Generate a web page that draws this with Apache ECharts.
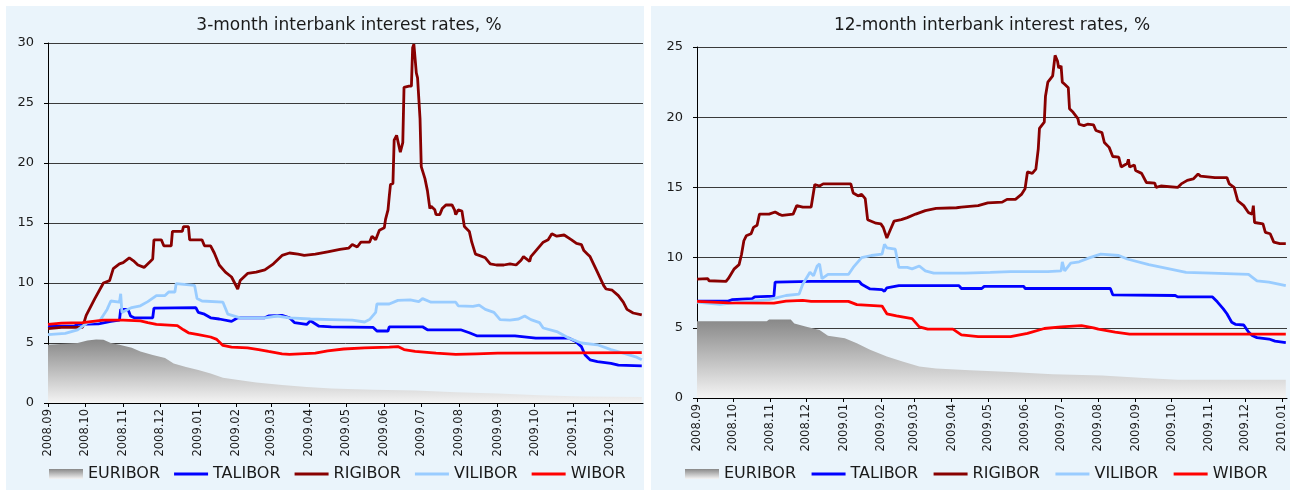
<!DOCTYPE html>
<html>
<head>
<meta charset="utf-8">
<script src="https://cdn.jsdelivr.net/npm/echarts@6.0.0/dist/echarts.min.js"></script>
<style>
  html, body { margin: 0; padding: 0; background: #fff; }
  #chart { width: 1293px; height: 493px; }
</style>
</head>
<body>
<div id="chart"></div>
<script>
// 系列名称与刻度标签
const seriesNames = ['EURIBOR', 'TALIBOR', 'RIGIBOR', 'VILIBOR', 'WIBOR'];
const titles = ['3-month interbank interest rates, %', '12-month interbank interest rates, %'];
const ticks3m = ['2008.09', '2008.10', '2008.11', '2008.12', '2009.01', '2009.02', '2009.03', '2009.04',
  '2009.05', '2009.06', '2009.07', '2009.08', '2009.09', '2009.10', '2009.11', '2009.12'];
const ticks12m = ticks3m.concat(['2010.01']);

// 3个月利率
const euribor3m = [['2008-09-01', 4.86], ['2008-09-25', 5.0], ['2008-10-03', 5.2], ['2008-10-10', 5.3], ['2008-10-16', 5.28],
  ['2008-10-22', 5.0], ['2008-10-29', 4.86], ['2008-11-08', 4.6], ['2008-11-15', 4.3], ['2008-11-25', 4.0], ['2008-12-05', 3.75],
  ['2008-12-12', 3.3], ['2008-12-22', 3.0], ['2009-01-01', 2.75], ['2009-01-11', 2.45], ['2009-01-21', 2.1], ['2009-02-04', 1.9],
  ['2009-02-17', 1.7], ['2009-03-10', 1.5], ['2009-03-30', 1.33], ['2009-04-19', 1.2], ['2009-05-23', 1.1], ['2009-06-26', 1.05],
  ['2009-07-29', 0.9], ['2009-09-01', 0.8], ['2009-10-05', 0.65], ['2009-11-08', 0.55], ['2009-12-27', 0.5]];
const talibor3m = [['2008-09-01', 6.4], ['2008-09-22', 6.4], ['2008-09-25', 6.55], ['2008-10-12', 6.6], ['2008-10-22', 6.8],
  ['2008-10-29', 6.9], ['2008-10-30', 7.8], ['2008-11-05', 7.8], ['2008-11-07', 7.25], ['2008-11-10', 7.1], ['2008-11-25', 7.1],
  ['2008-11-26', 7.9], ['2008-12-30', 7.95], ['2009-01-01', 7.55], ['2009-01-06', 7.4], ['2009-01-11', 7.1], ['2009-01-18', 7.0],
  ['2009-01-28', 6.8], ['2009-02-02', 7.1], ['2009-02-24', 7.1], ['2009-02-27', 7.25], ['2009-03-10', 7.3], ['2009-03-16', 7.1],
  ['2009-03-20', 6.7], ['2009-03-30', 6.55], ['2009-04-02', 6.85], ['2009-04-09', 6.4], ['2009-04-19', 6.35], ['2009-05-23', 6.3],
  ['2009-05-26', 6.0], ['2009-06-04', 6.0], ['2009-06-05', 6.35], ['2009-07-02', 6.35], ['2009-07-06', 6.1], ['2009-08-02', 6.1],
  ['2009-08-09', 5.85], ['2009-08-15', 5.6], ['2009-09-15', 5.6], ['2009-10-02', 5.4], ['2009-10-29', 5.4], ['2009-11-03', 5.15],
  ['2009-11-08', 4.7], ['2009-11-11', 4.0], ['2009-11-15', 3.6], ['2009-11-21', 3.45], ['2009-12-02', 3.3], ['2009-12-08', 3.15],
  ['2009-12-27', 3.1]];
const rigibor3m = [['2008-09-01', 6.2], ['2008-09-12', 6.3], ['2008-09-29', 6.3], ['2008-10-02', 7.3], ['2008-10-09', 8.7],
  ['2008-10-16', 10.0], ['2008-10-21', 10.2], ['2008-10-24', 11.2], ['2008-10-29', 11.6], ['2008-11-01', 11.7], ['2008-11-06', 12.1],
  ['2008-11-10', 11.8], ['2008-11-13', 11.5], ['2008-11-18', 11.3], ['2008-11-23', 11.8], ['2008-11-25', 12.0], ['2008-11-26', 13.6],
  ['2008-12-02', 13.6], ['2008-12-04', 13.1], ['2008-12-10', 13.1], ['2008-12-11', 14.3], ['2008-12-19', 14.3], ['2008-12-20', 14.7],
  ['2008-12-24', 14.7], ['2008-12-25', 13.6], ['2009-01-04', 13.6], ['2009-01-06', 13.1], ['2009-01-11', 13.1], ['2009-01-14', 12.5],
  ['2009-01-18', 11.5], ['2009-01-23', 10.9], ['2009-01-28', 10.5], ['2009-02-02', 9.5], ['2009-02-04', 10.2], ['2009-02-10', 10.8],
  ['2009-02-17', 10.9], ['2009-02-24', 11.1], ['2009-03-03', 11.6], ['2009-03-10', 12.3], ['2009-03-16', 12.5], ['2009-03-23', 12.4],
  ['2009-03-28', 12.3], ['2009-04-06', 12.4], ['2009-04-16', 12.6], ['2009-04-26', 12.8], ['2009-05-03', 12.9], ['2009-05-06', 13.2],
  ['2009-05-10', 13.0], ['2009-05-13', 13.4], ['2009-05-20', 13.4], ['2009-05-22', 13.9], ['2009-05-25', 13.6], ['2009-05-28', 14.4],
  ['2009-06-01', 14.6], ['2009-06-02', 15.3], ['2009-06-04', 16.1], ['2009-06-05', 17.2], ['2009-06-06', 18.2], ['2009-06-08', 18.3],
  ['2009-06-09', 21.9], ['2009-06-11', 22.3], ['2009-06-14', 20.9], ['2009-06-16', 21.7], ['2009-06-17', 26.3], ['2009-06-21', 26.4],
  ['2009-06-23', 26.4], ['2009-06-24', 29.6], ['2009-06-25', 29.9], ['2009-06-27', 27.5], ['2009-06-28', 27.1], ['2009-06-30', 23.7],
  ['2009-07-01', 19.7], ['2009-07-04', 18.7], ['2009-07-06', 17.7], ['2009-07-08', 16.2], ['2009-07-09', 16.4], ['2009-07-12', 16.1],
  ['2009-07-13', 15.7], ['2009-07-16', 15.7], ['2009-07-18', 16.2], ['2009-07-21', 16.5], ['2009-07-26', 16.5], ['2009-07-28', 16.1],
  ['2009-07-29', 15.7], ['2009-07-31', 16.1], ['2009-08-03', 16.0], ['2009-08-05', 14.7], ['2009-08-09', 14.3], ['2009-08-11', 13.4],
  ['2009-08-14', 12.4], ['2009-08-17', 12.3], ['2009-08-22', 12.1], ['2009-08-26', 11.6], ['2009-08-31', 11.5], ['2009-09-06', 11.5],
  ['2009-09-11', 11.6], ['2009-09-16', 11.5], ['2009-09-20', 11.9], ['2009-09-22', 12.2], ['2009-09-27', 11.8], ['2009-09-28', 12.2],
  ['2009-10-03', 12.8], ['2009-10-08', 13.4], ['2009-10-12', 13.6], ['2009-10-15', 14.1], ['2009-10-19', 13.9], ['2009-10-25', 14.0],
  ['2009-10-31', 13.6], ['2009-11-04', 13.3], ['2009-11-08', 13.2], ['2009-11-10', 12.7], ['2009-11-13', 12.4], ['2009-11-15', 12.2],
  ['2009-11-21', 10.9], ['2009-11-26', 9.8], ['2009-11-28', 9.5], ['2009-12-03', 9.4], ['2009-12-08', 8.95], ['2009-12-12', 8.4],
  ['2009-12-15', 7.8], ['2009-12-20', 7.5], ['2009-12-27', 7.35]];
const vilibor3m = [['2008-09-01', 5.7], ['2008-09-15', 5.8], ['2008-09-25', 6.1], ['2008-10-03', 6.7], ['2008-10-13', 6.85],
  ['2008-10-19', 7.8], ['2008-10-22', 8.5], ['2008-10-29', 8.4], ['2008-10-30', 9.1], ['2008-10-31', 7.55], ['2008-11-03', 7.7],
  ['2008-11-08', 7.95], ['2008-11-15', 8.1], ['2008-11-21', 8.45], ['2008-11-28', 8.95], ['2008-12-05', 8.95], ['2008-12-08', 9.25],
  ['2008-12-13', 9.25], ['2008-12-14', 9.95], ['2008-12-29', 9.8], ['2008-12-31', 8.7], ['2009-01-04', 8.5], ['2009-01-21', 8.4],
  ['2009-01-25', 7.4], ['2009-02-04', 7.1], ['2009-02-24', 7.1], ['2009-03-06', 7.25], ['2009-03-16', 7.1], ['2009-04-02', 7.0],
  ['2009-04-19', 6.95], ['2009-05-06', 6.9], ['2009-05-16', 6.75], ['2009-05-20', 6.95], ['2009-05-25', 7.55], ['2009-05-26', 8.25],
  ['2009-06-05', 8.25], ['2009-06-12', 8.55], ['2009-06-22', 8.6], ['2009-06-29', 8.45], ['2009-07-02', 8.7], ['2009-07-09', 8.4],
  ['2009-07-29', 8.4], ['2009-07-31', 8.1], ['2009-08-12', 8.05], ['2009-08-17', 8.15], ['2009-08-22', 7.8], ['2009-08-29', 7.55],
  ['2009-09-03', 6.95], ['2009-09-11', 6.9], ['2009-09-18', 7.0], ['2009-09-23', 7.25], ['2009-09-28', 6.95], ['2009-10-05', 6.7],
  ['2009-10-08', 6.25], ['2009-10-19', 5.95], ['2009-10-29', 5.4], ['2009-11-08', 5.0], ['2009-11-21', 4.85], ['2009-12-02', 4.45],
  ['2009-12-12', 4.15], ['2009-12-22', 3.85], ['2009-12-27', 3.6]];
const wibor3m = [['2008-09-01', 6.55], ['2008-09-12', 6.65], ['2008-09-29', 6.7], ['2008-10-16', 6.9], ['2008-11-01', 6.9],
  ['2008-11-15', 6.85], ['2008-11-21', 6.7], ['2008-11-28', 6.55], ['2008-12-15', 6.45], ['2008-12-20', 6.1], ['2008-12-24', 5.85],
  ['2009-01-01', 5.7], ['2009-01-11', 5.5], ['2009-01-16', 5.3], ['2009-01-21', 4.8], ['2009-01-28', 4.65], ['2009-02-10', 4.6],
  ['2009-02-19', 4.45], ['2009-02-27', 4.3], ['2009-03-10', 4.1], ['2009-03-16', 4.05], ['2009-04-06', 4.15], ['2009-04-16', 4.35],
  ['2009-04-29', 4.5], ['2009-05-16', 4.6], ['2009-06-05', 4.65], ['2009-06-12', 4.7], ['2009-06-17', 4.45], ['2009-06-26', 4.3],
  ['2009-07-13', 4.15], ['2009-07-29', 4.05], ['2009-08-15', 4.1], ['2009-09-01', 4.15], ['2009-12-27', 4.2]];

// 12个月利率
const euribor12m = [['2008-09-01', 5.47], ['2008-10-29', 5.47], ['2008-10-31', 5.6], ['2008-11-18', 5.6], ['2008-11-21', 5.3],
  ['2008-12-01', 5.07], ['2008-12-12', 4.84], ['2008-12-19', 4.44], ['2009-01-02', 4.25], ['2009-01-12', 3.9], ['2009-01-23', 3.43],
  ['2009-02-06', 2.96], ['2009-02-19', 2.6], ['2009-03-05', 2.25], ['2009-03-19', 2.1], ['2009-04-16', 1.97], ['2009-05-20', 1.85],
  ['2009-06-24', 1.7], ['2009-08-04', 1.6], ['2009-09-08', 1.43], ['2009-10-06', 1.3], ['2010-01-04', 1.3]];
const talibor12m = [['2008-09-01', 6.9], ['2008-09-27', 6.9], ['2008-09-30', 7.0], ['2008-10-17', 7.07], ['2008-10-19', 7.2],
  ['2008-11-04', 7.25], ['2008-11-05', 8.25], ['2008-12-05', 8.3], ['2009-01-14', 8.3], ['2009-01-16', 8.1], ['2009-01-23', 7.77],
  ['2009-02-02', 7.72], ['2009-02-04', 7.6], ['2009-02-06', 7.85], ['2009-02-16', 8.0], ['2009-04-07', 8.0], ['2009-04-09', 7.8],
  ['2009-04-26', 7.8], ['2009-04-28', 7.95], ['2009-05-31', 7.95], ['2009-06-01', 7.8], ['2009-08-11', 7.8], ['2009-08-13', 7.35],
  ['2009-10-04', 7.3], ['2009-10-06', 7.2], ['2009-11-04', 7.2], ['2009-11-08', 6.85], ['2009-11-13', 6.35], ['2009-11-16', 6.0],
  ['2009-11-20', 5.4], ['2009-11-23', 5.25], ['2009-11-30', 5.2], ['2009-12-04', 4.7], ['2009-12-07', 4.45], ['2009-12-11', 4.3],
  ['2009-12-21', 4.2], ['2009-12-26', 4.05], ['2010-01-04', 3.95]];
const rigibor12m = [['2008-09-01', 8.47], ['2008-09-10', 8.5], ['2008-09-11', 8.35], ['2008-09-25', 8.3], ['2008-09-27', 8.5],
  ['2008-10-02', 9.2], ['2008-10-06', 9.5], ['2008-10-08', 10.2], ['2008-10-10', 11.2], ['2008-10-12', 11.55], ['2008-10-16', 11.7],
  ['2008-10-18', 12.15], ['2008-10-21', 12.3], ['2008-10-23', 13.1], ['2008-10-31', 13.1], ['2008-11-05', 13.25], ['2008-11-08', 13.1],
  ['2008-11-11', 13.0], ['2008-11-20', 13.1], ['2008-11-23', 13.7], ['2008-11-28', 13.6], ['2008-12-05', 13.6], ['2008-12-08', 15.2],
  ['2008-12-12', 15.1], ['2008-12-15', 15.25], ['2009-01-07', 15.25], ['2009-01-09', 14.6], ['2009-01-13', 14.4], ['2009-01-16', 14.5],
  ['2009-01-19', 14.2], ['2009-01-21', 12.7], ['2009-01-28', 12.45], ['2009-02-01', 12.4], ['2009-02-03', 12.15], ['2009-02-06', 11.4],
  ['2009-02-09', 12.0], ['2009-02-12', 12.6], ['2009-02-18', 12.7], ['2009-02-23', 12.85], ['2009-03-02', 13.1], ['2009-03-10', 13.35],
  ['2009-03-19', 13.5], ['2009-04-05', 13.55], ['2009-04-09', 13.6], ['2009-04-23', 13.7], ['2009-05-01', 13.9], ['2009-05-13', 13.95],
  ['2009-05-17', 14.15], ['2009-05-24', 14.15], ['2009-05-29', 14.5], ['2009-06-01', 14.9], ['2009-06-03', 16.1], ['2009-06-07', 16.0],
  ['2009-06-10', 16.3], ['2009-06-12', 17.75], ['2009-06-13', 19.2], ['2009-06-17', 19.65], ['2009-06-18', 21.5], ['2009-06-20', 22.5],
  ['2009-06-24', 22.95], ['2009-06-26', 24.4], ['2009-06-28', 24.0], ['2009-06-29', 23.5], ['2009-07-01', 23.65], ['2009-07-02', 22.5],
  ['2009-07-04', 22.35], ['2009-07-07', 22.1], ['2009-07-08', 20.6], ['2009-07-11', 20.35], ['2009-07-15', 19.9], ['2009-07-16', 19.5],
  ['2009-07-20', 19.4], ['2009-07-23', 19.5], ['2009-07-28', 19.45], ['2009-07-30', 19.05], ['2009-08-04', 18.9], ['2009-08-06', 18.2],
  ['2009-08-10', 17.85], ['2009-08-13', 17.2], ['2009-08-18', 17.15], ['2009-08-20', 16.45], ['2009-08-25', 16.7], ['2009-08-26', 17.0],
  ['2009-08-27', 16.45], ['2009-08-31', 16.6], ['2009-09-01', 16.2], ['2009-09-06', 16.0], ['2009-09-10', 15.35], ['2009-09-17', 15.3],
  ['2009-09-18', 15.0], ['2009-09-22', 15.1], ['2009-10-06', 15.0], ['2009-10-09', 15.25], ['2009-10-14', 15.5], ['2009-10-19', 15.6],
  ['2009-10-23', 15.95], ['2009-10-25', 15.8], ['2009-11-06', 15.7], ['2009-11-16', 15.7], ['2009-11-18', 15.25], ['2009-11-22', 15.0],
  ['2009-11-25', 14.05], ['2009-11-30', 13.7], ['2009-12-04', 13.2], ['2009-12-07', 13.1], ['2009-12-08', 13.7], ['2009-12-09', 12.5],
  ['2009-12-16', 12.4], ['2009-12-18', 11.8], ['2009-12-22', 11.7], ['2009-12-25', 11.1], ['2009-12-30', 11.0], ['2010-01-04', 11.0]];
const vilibor12m = [['2008-09-01', 6.83], ['2008-09-20', 6.67], ['2008-10-07', 6.83], ['2008-10-31', 7.0], ['2008-11-14', 7.3],
  ['2008-11-25', 7.4], ['2008-11-28', 8.1], ['2008-12-04', 8.95], ['2008-12-07', 8.7], ['2008-12-10', 9.4], ['2008-12-12', 9.55],
  ['2008-12-14', 8.5], ['2008-12-19', 8.8], ['2009-01-05', 8.8], ['2009-01-09', 9.3], ['2009-01-16', 10.0], ['2009-01-24', 10.15],
  ['2009-02-02', 10.25], ['2009-02-04', 10.95], ['2009-02-06', 10.7], ['2009-02-13', 10.6], ['2009-02-16', 9.3], ['2009-02-23', 9.3],
  ['2009-02-27', 9.2], ['2009-03-05', 9.4], ['2009-03-10', 9.05], ['2009-03-17', 8.9], ['2009-04-12', 8.9], ['2009-05-03', 8.95],
  ['2009-05-20', 9.0], ['2009-06-20', 9.0], ['2009-07-01', 9.05], ['2009-07-02', 9.7], ['2009-07-04', 9.05], ['2009-07-09', 9.6],
  ['2009-07-16', 9.7], ['2009-07-25', 10.0], ['2009-08-03', 10.25], ['2009-08-18', 10.15], ['2009-08-25', 9.9], ['2009-09-12', 9.5],
  ['2009-09-29', 9.2], ['2009-10-13', 8.95], ['2009-11-03', 8.9], ['2009-12-04', 8.8], ['2009-12-11', 8.35], ['2009-12-21', 8.25],
  ['2010-01-04', 8.0]];
const wibor12m = [['2008-09-01', 6.88], ['2008-09-27', 6.78], ['2008-11-04', 6.76], ['2008-11-14', 6.9], ['2008-11-28', 6.95],
  ['2008-12-05', 6.88], ['2009-01-05', 6.88], ['2009-01-12', 6.65], ['2009-02-02', 6.55], ['2009-02-06', 6.0], ['2009-02-14', 5.85],
  ['2009-02-27', 5.65], ['2009-03-05', 5.07], ['2009-03-12', 4.9], ['2009-04-02', 4.9], ['2009-04-09', 4.5], ['2009-04-23', 4.37],
  ['2009-05-20', 4.37], ['2009-06-03', 4.6], ['2009-06-17', 4.95], ['2009-07-01', 5.07], ['2009-07-18', 5.15], ['2009-07-28', 5.0],
  ['2009-08-01', 4.9], ['2009-08-15', 4.7], ['2009-08-27', 4.55], ['2010-01-04', 4.55]];

(function () {
  const FONT = 'DejaVu Sans';
  const colors = { EURIBOR: '#9a9a9a', TALIBOR: '#0000ff', RIGIBOR: '#880000', VILIBOR: '#99ccff', WIBOR: '#ff0000' };
  const grayFill = {
    type: 'linear', x: 0, y: 0, x2: 0, y2: 1,
    colorStops: [{ offset: 0, color: '#888888' }, { offset: 1, color: '#f4f4f4' }]
  };
  const linePath = 'path://M0,0H34V3H0Z';

  // 日期字符串 -> 本地时间戳
  const ts = (s) => {
    const p = s.split(/[-.]/).map(Number);
    return new Date(p[0], p[1] - 1, p[2] || 1).getTime();
  };
  const fmtMonth = (v) => {
    const d = new Date(v);
    return d.getFullYear() + '.' + String(d.getMonth() + 1).padStart(2, '0');
  };

  const panels = [
    { data: [euribor3m, talibor3m, rigibor3m, vilibor3m, wibor3m], ticks: ticks3m, max: '2009-12-28', yMax: 30,
      grid: { left: 48, top: 43, width: 595, height: 360 }, titleX: 349, legendX: 49, gap: 14 },
    { data: [euribor12m, talibor12m, rigibor12m, vilibor12m, wibor12m], ticks: ticks12m, max: '2010-01-05', yMax: 25,
      grid: { left: 697, top: 47, width: 590, height: 351 }, titleX: 992, legendX: 685, gap: 15.5 }
  ];

  const option = {
    animation: false,
    backgroundColor: '#ffffff',
    graphic: { elements: [
      { type: 'rect', z: -10, silent: true, shape: { x: 6, y: 6, width: 638, height: 484 }, style: { fill: '#eaf4fb' } },
      { type: 'rect', z: -10, silent: true, shape: { x: 651, y: 6, width: 639, height: 484 }, style: { fill: '#eaf4fb' } }
    ] },
    title: [], legend: [], grid: [], xAxis: [], yAxis: [], series: []
  };

  panels.forEach((p, i) => {
    const tickTs = p.ticks.map(ts);
    option.title.push({
      text: titles[i], left: p.titleX, top: 17, textAlign: 'center', padding: 0,
      textStyle: { fontFamily: FONT, fontSize: 17, fontWeight: 'normal', color: '#1a1a1a' }
    });
    option.legend.push({
      left: p.legendX, top: 466, itemWidth: 34, itemHeight: 10, itemGap: p.gap, padding: 0,
      selectedMode: false,
      textStyle: { fontFamily: FONT, fontSize: 16, color: '#1a1a1a' },
      data: seriesNames.map((n) => n === 'EURIBOR'
        ? { name: n, icon: 'rect', itemStyle: { color: grayFill } }
        : { name: n, icon: linePath, itemStyle: { color: colors[n] } })
    });
    option.grid.push(Object.assign({ outerBoundsMode: 'none' }, p.grid));
    // 横轴用数值轴承载时间戳，刻度放在每月1日
    option.xAxis.push({
      type: 'value', gridIndex: i, min: ts('2008-09-01'), max: ts(p.max),
      axisLine: { show: true, onZero: false, lineStyle: { color: '#000', width: 1 } },
      axisTick: { show: true, length: 4, customValues: tickTs, lineStyle: { color: '#000' } },
      axisLabel: { customValues: tickTs, rotate: 90, margin: 6, fontFamily: FONT, fontSize: 11.5, color: '#1a1a1a', formatter: fmtMonth },
      splitLine: { show: false }
    });
    option.yAxis.push({
      type: 'value', gridIndex: i, min: 0, max: p.yMax, interval: 5,
      axisLine: { show: true, lineStyle: { color: '#000', width: 1 } },
      axisTick: { show: true, length: 4, lineStyle: { color: '#000' } },
      axisLabel: { margin: 14, fontFamily: FONT, fontSize: 13, color: '#1a1a1a' },
      splitLine: { show: true, lineStyle: { color: '#3a3a3a', width: 1 } }
    });
    seriesNames.forEach((n, k) => {
      const s = {
        name: n, type: 'line', xAxisIndex: i, yAxisIndex: i,
        data: p.data[k].map((d) => [ts(d[0]), d[1]]),
        symbol: 'none', showSymbol: false, silent: true,
        itemStyle: { color: colors[n] },
        lineStyle: { color: colors[n], width: 2.8 }
      };
      if (n === 'EURIBOR') {
        s.lineStyle = { width: 0 };
        s.areaStyle = { color: grayFill, opacity: 1 };
      }
      option.series.push(s);
    });
  });

  const chart = echarts.init(document.getElementById('chart'), null, { renderer: 'canvas' });
  chart.setOption(option);
})();
</script>
</body>
</html>
